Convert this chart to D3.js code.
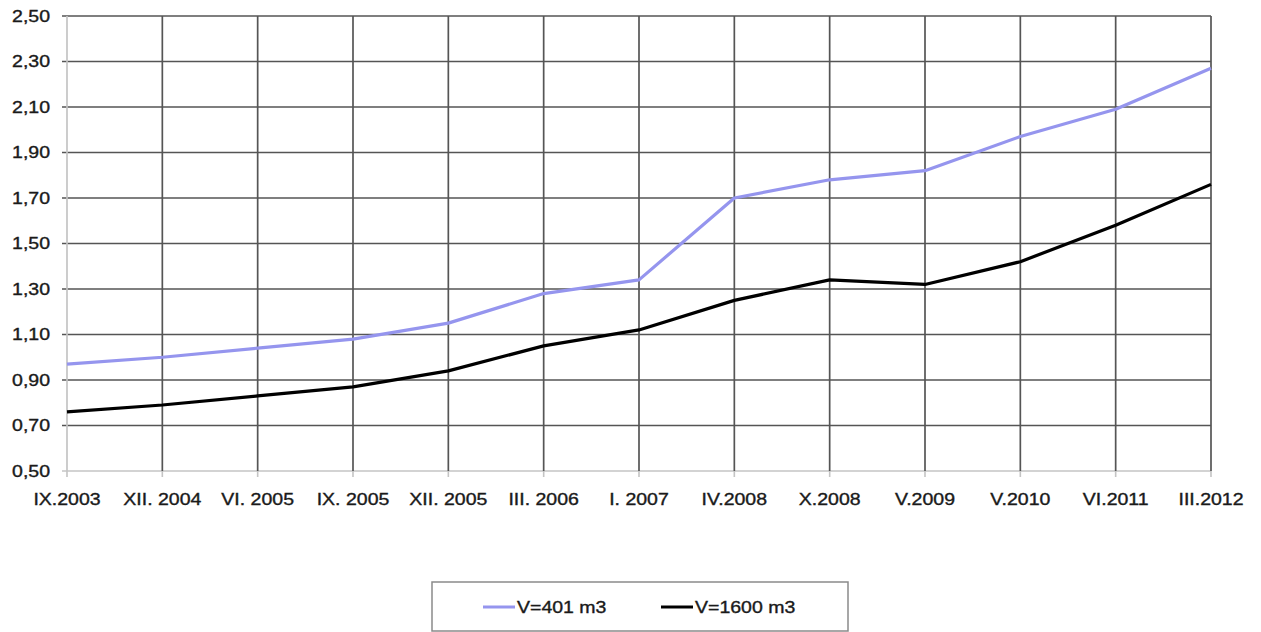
<!DOCTYPE html>
<html>
<head>
<meta charset="utf-8">
<script src="https://cdn.jsdelivr.net/npm/d3@7"></script>
<style>
  html, body { margin: 0; padding: 0; background: #fff; }
  svg { display: block; }
  text { font-family: "Liberation Sans", Arial, sans-serif; fill: #1a1a1a; stroke: #1a1a1a; stroke-width: 0.35px; }
</style>
</head>
<body>
<svg id="chart" width="1261" height="632"></svg>
<script>
// Survey dates (x categories)
const categories = ["IX.2003", "XII. 2004", "VI. 2005", "IX. 2005", "XII. 2005", "III. 2006",
  "I. 2007", "IV.2008", "X.2008", "V.2009", "V.2010", "VI.2011", "III.2012"];

// Series values
const seriesNames = ["V=401 m3", "V=1600 m3"];
const v401 = [0.97, 1.00, 1.04, 1.08, 1.15, 1.28, 1.34, 1.70, 1.78, 1.82, 1.97, 2.09, 2.27];
const v1600 = [0.76, 0.79, 0.83, 0.87, 0.94, 1.05, 1.12, 1.25, 1.34, 1.32, 1.42, 1.58, 1.76];

// Y axis ticks
const yTicks = [0.50, 0.70, 0.90, 1.10, 1.30, 1.50, 1.70, 1.90, 2.10, 2.30, 2.50];

const seriesColors = ["#9595ee", "#000000"];
const TEXT_SX = 1.22;   // glyphs are drawn slightly widened
const FONT = 16;

const svg = d3.select("#chart");
const plotL = 67, plotR = 1211, plotT = 16, plotB = 471;

const x = d3.scalePoint().domain(categories).range([plotL, plotR]);
const y = d3.scaleLinear().domain([0.5, 2.5]).range([plotB, plotT]);

const fmt = v => d3.format(".2f")(v).replace(".", ",");

// Horizontal gridlines (0.50 line acts as the light category axis)
svg.append("g").selectAll("line").data(yTicks).join("line")
  .attr("x1", plotL - 5).attr("x2", plotR)
  .attr("y1", d => y(d)).attr("y2", d => y(d))
  .attr("stroke", d => d === 0.5 ? "#c4c4c4" : "#555")
  .attr("stroke-width", 1.7);

// Vertical gridlines at each category, plus short ticks below the axis
const vg = svg.append("g");
vg.selectAll("line.grid").data(categories).join("line")
  .attr("class", "grid")
  .attr("x1", d => x(d)).attr("x2", d => x(d))
  .attr("y1", plotT).attr("y2", plotB)
  .attr("stroke", (d, i) => i === 0 ? "#c4c4c4" : "#555")
  .attr("stroke-width", 1.7);
vg.selectAll("line.tick").data(categories).join("line")
  .attr("class", "tick")
  .attr("x1", d => x(d)).attr("x2", d => x(d))
  .attr("y1", plotB).attr("y2", plotB + 6)
  .attr("stroke", "#c4c4c4").attr("stroke-width", 1.6);

// Y tick labels
svg.append("g").selectAll("text").data(yTicks).join("text")
  .attr("transform", d => `translate(50,${y(d)}) scale(${TEXT_SX},1)`)
  .attr("text-anchor", "end").attr("dy", "0.36em")
  .style("font-size", FONT + "px")
  .text(fmt);

// X tick labels
svg.append("g").selectAll("text").data(categories).join("text")
  .attr("transform", d => `translate(${x(d)},505) scale(${TEXT_SX},1)`)
  .attr("text-anchor", "middle")
  .style("font-size", FONT + "px")
  .text(d => d);

// Data lines
const line = d3.line().x((d, i) => x(categories[i])).y(d => y(d));
[v401, v1600].forEach((vals, k) => {
  svg.append("path").datum(vals)
    .attr("d", line)
    .attr("fill", "none")
    .attr("stroke", seriesColors[k])
    .attr("stroke-width", 3.2)
    .attr("stroke-linejoin", "round");
});

// Legend
const lg = svg.append("g");
lg.append("rect").attr("x", 432).attr("y", 582).attr("width", 416).attr("height", 49)
  .attr("fill", "#fff").attr("stroke", "#8a8a8a").attr("stroke-width", 1.5);
const legendX = [483, 661];
seriesNames.forEach((name, k) => {
  lg.append("line")
    .attr("x1", legendX[k]).attr("x2", legendX[k] + 32)
    .attr("y1", 607).attr("y2", 607)
    .attr("stroke", seriesColors[k]).attr("stroke-width", 3);
  lg.append("text")
    .attr("transform", `translate(${legendX[k] + 34},607) scale(${TEXT_SX},1)`)
    .attr("dy", "0.36em")
    .style("font-size", FONT + "px")
    .text(name);
});
</script>
</body>
</html>
